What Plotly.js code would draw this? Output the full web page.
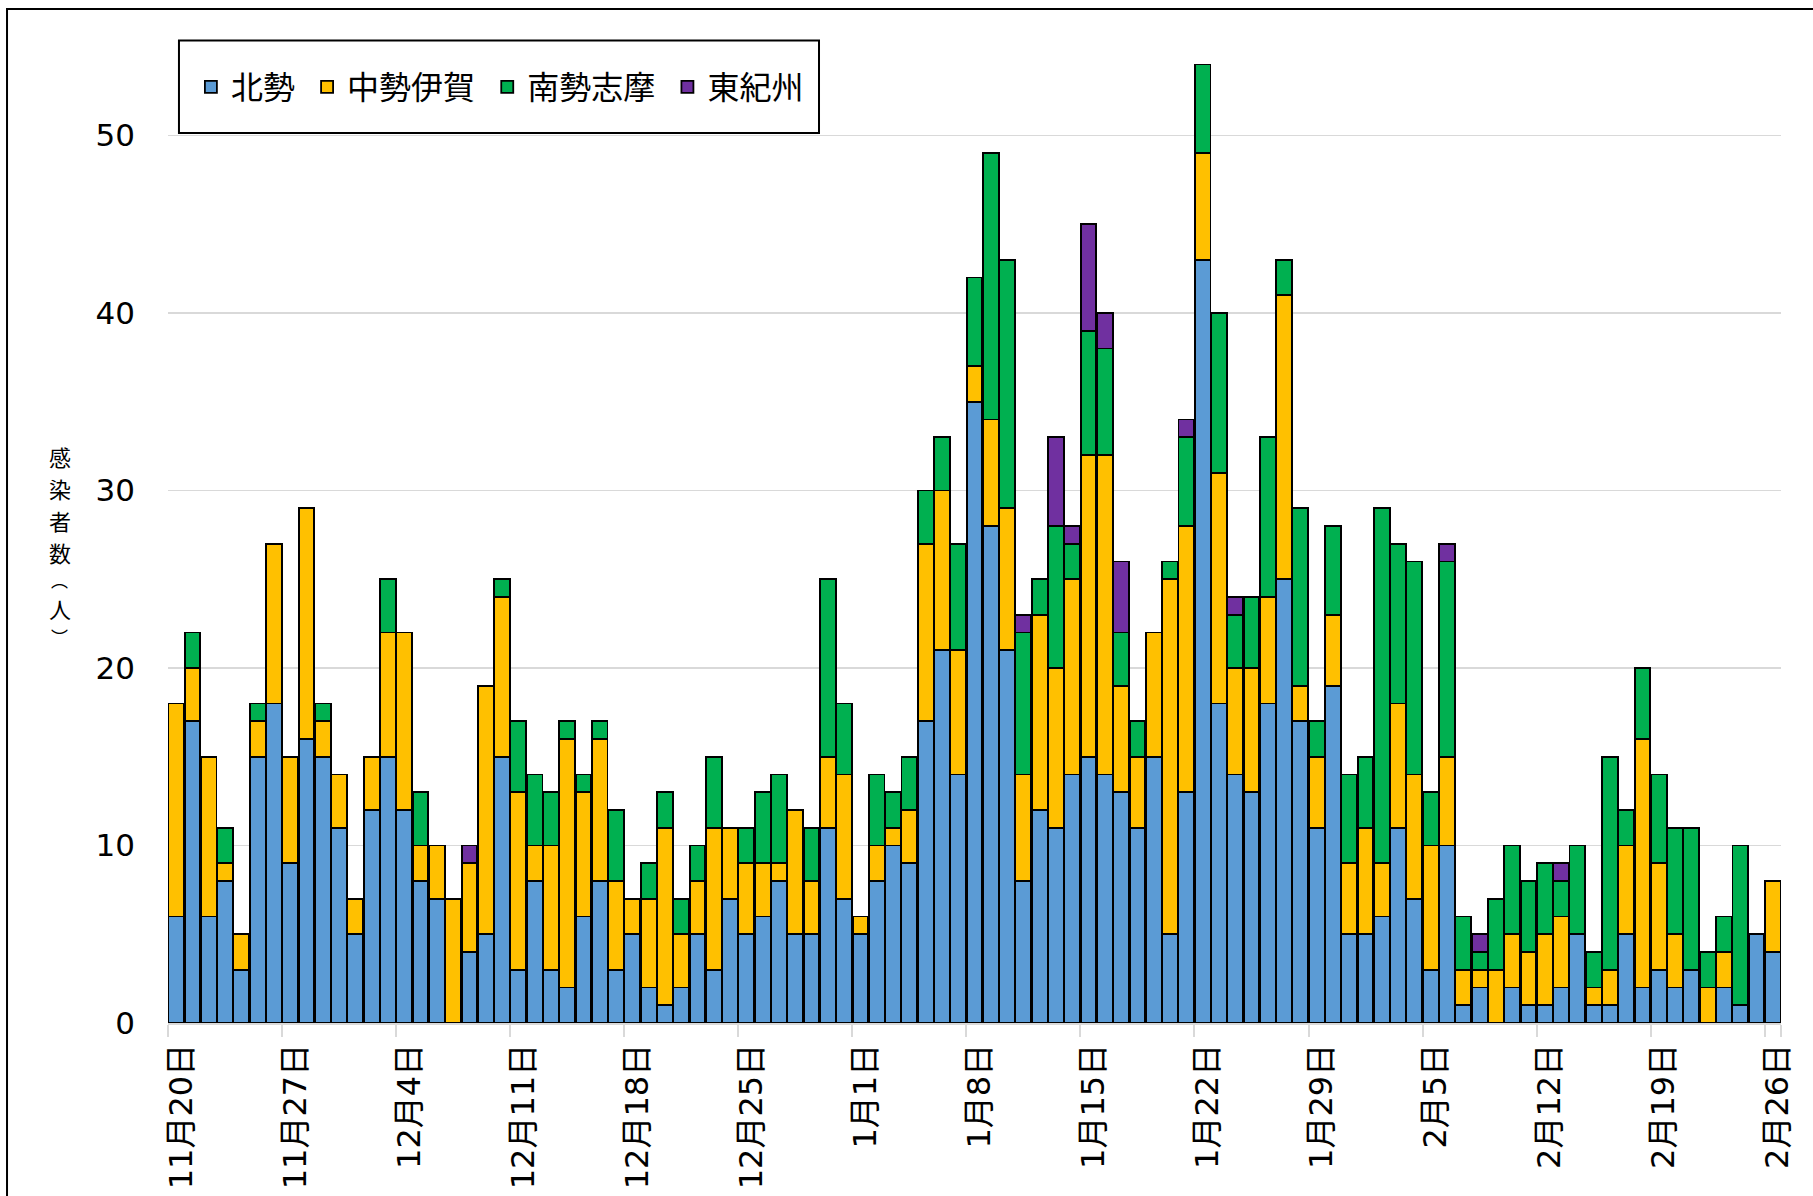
<!DOCTYPE html>
<html>
<head>
<meta charset="utf-8">
<script src="https://cdn.plot.ly/plotly-3.0.1.min.js"></script>
<style>
  html, body { margin: 0; padding: 0; background: #ffffff; }
  #chart { width: 1813px; height: 1196px; }
</style>
</head>
<body>
<div id="chart"></div>
<script>
// Categories (one per day)
const days = [
  "11月20日","11月21日","11月22日","11月23日","11月24日","11月25日","11月26日","11月27日","11月28日","11月29日","11月30日",
  "12月1日","12月2日","12月3日","12月4日","12月5日","12月6日","12月7日","12月8日","12月9日","12月10日",
  "12月11日","12月12日","12月13日","12月14日","12月15日","12月16日","12月17日","12月18日","12月19日","12月20日",
  "12月21日","12月22日","12月23日","12月24日","12月25日","12月26日","12月27日","12月28日","12月29日","12月30日","12月31日",
  "1月1日","1月2日","1月3日","1月4日","1月5日","1月6日","1月7日","1月8日","1月9日","1月10日",
  "1月11日","1月12日","1月13日","1月14日","1月15日","1月16日","1月17日","1月18日","1月19日","1月20日",
  "1月21日","1月22日","1月23日","1月24日","1月25日","1月26日","1月27日","1月28日","1月29日","1月30日","1月31日",
  "2月1日","2月2日","2月3日","2月4日","2月5日","2月6日","2月7日","2月8日","2月9日","2月10日",
  "2月11日","2月12日","2月13日","2月14日","2月15日","2月16日","2月17日","2月18日","2月19日","2月20日",
  "2月21日","2月22日","2月23日","2月24日","2月25日","2月26日"
];

// Tick labels shown on the x axis (weekly)
const tickLabels = ["11月20日","11月27日","12月4日","12月11日","12月18日","12月25日","1月1日","1月8日",
  "1月15日","1月22日","1月29日","2月5日","2月12日","2月19日","2月26日"];

// Series values (persons per day)
const hokusei = [
  6,17,6,8,3,15,18,9,16,15,11,
  5,12,15,12,8,7,0,4,5,15,3,8,3,2,6,8,3,5,2,1,2,5,3,7,5,6,8,5,5,11,7,
  5,8,10,9,17,21,14,35,28,21,8,12,11,14,15,14,13,11,15,5,13,43,18,14,13,18,25,17,11,19,5,
  5,6,11,7,3,10,1,2,0,2,1,1,2,5,1,1,5,2,3,2,3,0,2,1,5,4
];
const chuseiIga = [
  12,3,9,1,2,2,9,6,13,2,3,
  2,3,7,10,2,3,7,5,14,9,10,2,7,14,7,8,5,2,5,10,3,3,8,4,4,3,1,7,3,4,7,
  1,2,1,3,10,9,7,2,6,8,6,11,9,11,17,18,6,4,7,20,15,6,13,6,7,6,16,2,4,4,4,
  6,3,7,7,7,5,2,1,3,3,3,4,4,0,1,2,5,14,6,3,0,2,2,0,0,4
];
const nanseiShima = [
  0,2,0,2,0,1,0,0,0,1,0,
  0,0,3,0,3,0,0,0,0,1,4,4,3,1,1,1,4,0,2,2,2,2,4,0,2,4,5,0,3,10,4,
  0,4,2,3,3,3,6,5,15,14,8,2,8,2,7,6,3,2,0,1,5,5,9,3,4,9,2,10,2,5,5,
  4,20,9,12,3,11,3,1,4,5,4,4,2,5,2,12,2,4,5,6,8,2,2,9,0,0
];
const higashiKishu = [
  0,0,0,0,0,0,0,0,0,0,0,
  0,0,0,0,0,0,0,1,0,0,0,0,0,0,0,0,0,0,0,0,0,0,0,0,0,0,0,0,0,0,0,
  0,0,0,0,0,0,0,0,0,0,1,0,5,1,6,2,4,0,0,0,1,0,0,1,0,0,0,0,0,0,0,
  0,0,0,0,0,1,0,1,0,0,0,0,1,0,0,0,0,0,0,0,0,0,0,0,0,0
];

const seriesNames = ["北勢", "中勢伊賀", "南勢志摩", "東紀州"];
const seriesColors = ["#5B9BD5", "#FFC000", "#00B050", "#7030A0"];
const seriesValues = [hokusei, chuseiIga, nanseiShima, higashiKishu];

// Y axis title, written vertically (one character per line)
const yTitleChars = ["感", "染", "者", "数", "︵", "人", "︶"];

const traces = seriesValues.map((vals, i) => ({
  type: "bar",
  name: seriesNames[i] + "\u00a0",
  x: days,
  y: vals,
  marker: { color: seriesColors[i], line: { color: "#000000", width: 1.8 } },
  hoverinfo: "x+y+name"
}));

const FONT = "DejaVu Sans, 'Noto Sans CJK JP', sans-serif";
const CJK = "'Noto Sans CJK JP', sans-serif";

// plot area geometry (px) used to place the vertical title
const W = 1813, H = 1196;
const M = { l: 168, r: 32, t: 29, b: 173, pad: 0 };
const plotH = H - M.t - M.b;
const titleStartPx = 456, charFont = 22, parenFont = 17, boxRatio = 1.45;

const isParen = ch => ch === "︵" || ch === "︶";
const titleAnnotations = [];
let cy = titleStartPx, prevH = null;
yTitleChars.forEach(ch => {
  const fs = isParen(ch) ? parenFont : charFont;
  const h = fs * boxRatio;
  if (prevH !== null) cy += (prevH + h) / 2;
  prevH = h;
  titleAnnotations.push({
    xref: "paper", yref: "paper",
    x: -0.067, y: (H - M.b - cy) / plotH,
    xanchor: "center", yanchor: "middle",
    showarrow: false, textangle: 0,
    text: ch,
    font: { family: CJK, size: fs, color: "#000000" }
  });
});

const layout = {
  width: W,
  height: H,
  margin: M,
  paper_bgcolor: "#ffffff",
  plot_bgcolor: "#ffffff",
  barmode: "stack",
  bargap: 0.04,
  font: { family: FONT, color: "#000000", size: 30 },
  showlegend: true,
  legend: {
    orientation: "h",
    traceorder: "normal",
    x: 0.0142, xanchor: "left",
    y: 0.9416, yanchor: "middle",
    bgcolor: "rgba(0,0,0,0)",
    borderwidth: 0,
    font: { family: CJK, size: 32, color: "#000000" },
    itemclick: false
  },
  xaxis: {
    type: "category",
    range: [-0.5, days.length - 0.5],
    tickmode: "array",
    tickvals: tickLabels,
    ticktext: tickLabels,
    tickson: "boundaries",
    ticks: "outside",
    ticklen: 12,
    tickwidth: 2,
    tickcolor: "#d9d9d9",
    tickangle: -90,
    ticklabelshift: 5,
    ticklabelstandoff: 6,
    tickfont: { family: FONT, size: 32, color: "#000000" },
    showgrid: false,
    showline: true,
    linecolor: "#d9d9d9",
    linewidth: 2,
    zeroline: false,
    fixedrange: true
  },
  yaxis: {
    range: [0, 56],
    tickmode: "linear",
    tick0: 0,
    dtick: 10,
    ticks: "",
    ticklabelstandoff: 32,
    tickfont: { family: FONT, size: 31, color: "#000000" },
    showgrid: true,
    gridcolor: "#d9d9d9",
    gridwidth: 1.5,
    zeroline: false,
    showline: false,
    fixedrange: true
  },
  shapes: [
    // outer chart border (left and top visible; extends beyond canvas)
    { type: "rect", xref: "paper", yref: "paper", x0: -0.0998, x1: 1.05, y0: -0.25, y1: 1.0201,
      line: { color: "#000000", width: 2 }, fillcolor: "rgba(0,0,0,0)", layer: "above" },
    // legend box
    { type: "rect", xref: "paper", yref: "paper", x0: 0.0068, x1: 0.4036, y0: 0.8954, y1: 0.9884,
      line: { color: "#000000", width: 2 }, fillcolor: "#ffffff", layer: "above" }
  ],
  annotations: titleAnnotations
};

Plotly.newPlot("chart", traces, layout, { displayModeBar: false, staticPlot: true });
</script>
</body>
</html>
